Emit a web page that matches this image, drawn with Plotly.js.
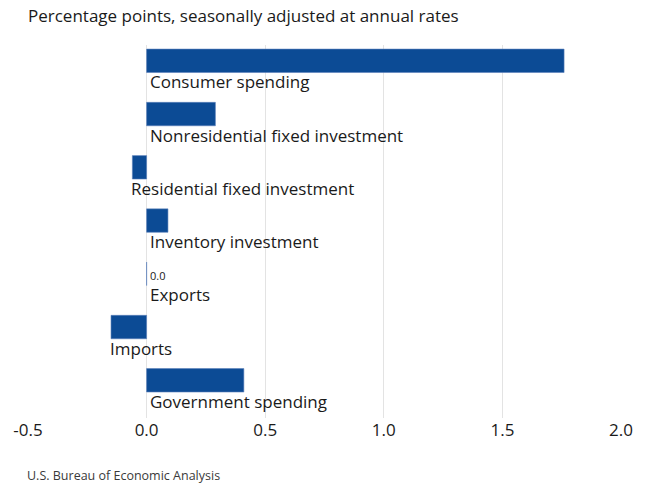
<!DOCTYPE html>
<html>
<head>
<meta charset="utf-8">
<script src="https://cdn.plot.ly/plotly-3.0.1.min.js"></script>
<style>html,body{margin:0;padding:0;background:#fff;}#chart{width:647px;height:485px;}</style>
</head>
<body>
<div id="chart"></div>
<script>
var categories = ["Consumer spending", "Nonresidential fixed investment", "Residential fixed investment", "Inventory investment", "Exports", "Imports", "Government spending"];
var values = [1.76, 0.29, -0.06, 0.09, 0.0, -0.15, 0.41];
var tickValues = [-0.5, 0, 0.5, 1.0, 1.5, 2.0];
var tickLabels = ["-0.5", "0.0", "0.5", "1.0", "1.5", "2.0"];

var FONT = "Open Sans, Noto Sans, sans-serif";
var BAR = "#0c4b95";

var annotations = [];
categories.forEach(function (c, i) {
  annotations.push({
    x: Math.min(0, values[i]), y: i, xref: 'x', yref: 'y',
    text: c, showarrow: false, xanchor: 'left', yanchor: 'middle',
    xshift: values[i] < 0 ? -3 : 1, yshift: -21,
    font: {family: FONT, size: 17, color: '#1a1a1a'}
  });
  if (values[i] === 0) {
    annotations.push({
      x: 0, y: i, xref: 'x', yref: 'y',
      text: values[i].toFixed(1), showarrow: false, xanchor: 'left', yanchor: 'middle',
      xshift: 1, yshift: -2,
      font: {family: FONT, size: 11, color: '#1a1a1a'}
    });
  }
});
annotations.push({
  x: 0, y: 0, xref: 'paper', yref: 'paper',
  text: 'U.S. Bureau of Economic Analysis', showarrow: false,
  xanchor: 'left', yanchor: 'middle', xshift: -3, yshift: -57,
  font: {family: FONT, size: 12.5, color: '#3a3a3a'}
});

var data = [{
  type: 'bar', orientation: 'h',
  x: values, y: categories.map(function (c, i) { return i; }),
  marker: {color: BAR, line: {color: '#5a80bb', width: 0.6}},
  width: 0.44,
  hoverinfo: 'none'
}];

var layout = {
  width: 647, height: 485,
  margin: {l: 28, r: 26, t: 45, b: 67},
  paper_bgcolor: '#fff', plot_bgcolor: '#fff',
  showlegend: false,
  title: {
    text: 'Percentage points, seasonally adjusted at annual rates',
    x: 0, xref: 'paper', xanchor: 'left',
    y: 1 - 16 / 485, yref: 'container', yanchor: 'middle',
    font: {family: FONT, size: 17, color: '#1a1a1a'}
  },
  xaxis: {
    range: [-0.5, 2.0],
    tickvals: tickValues, ticktext: tickLabels,
    showgrid: true, gridcolor: '#e3e3e3', gridwidth: 1,
    zeroline: false, showline: false, ticks: '',
    tickfont: {family: FONT, size: 17, color: '#1a1a1a'},
    fixedrange: true
  },
  yaxis: {
    range: [6.708, -0.297],
    showticklabels: false, showgrid: false, zeroline: false, ticks: '',
    fixedrange: true
  },
  annotations: annotations
};

Plotly.newPlot('chart', data, layout, {displayModeBar: false, staticPlot: true});
</script>
</body>
</html>
